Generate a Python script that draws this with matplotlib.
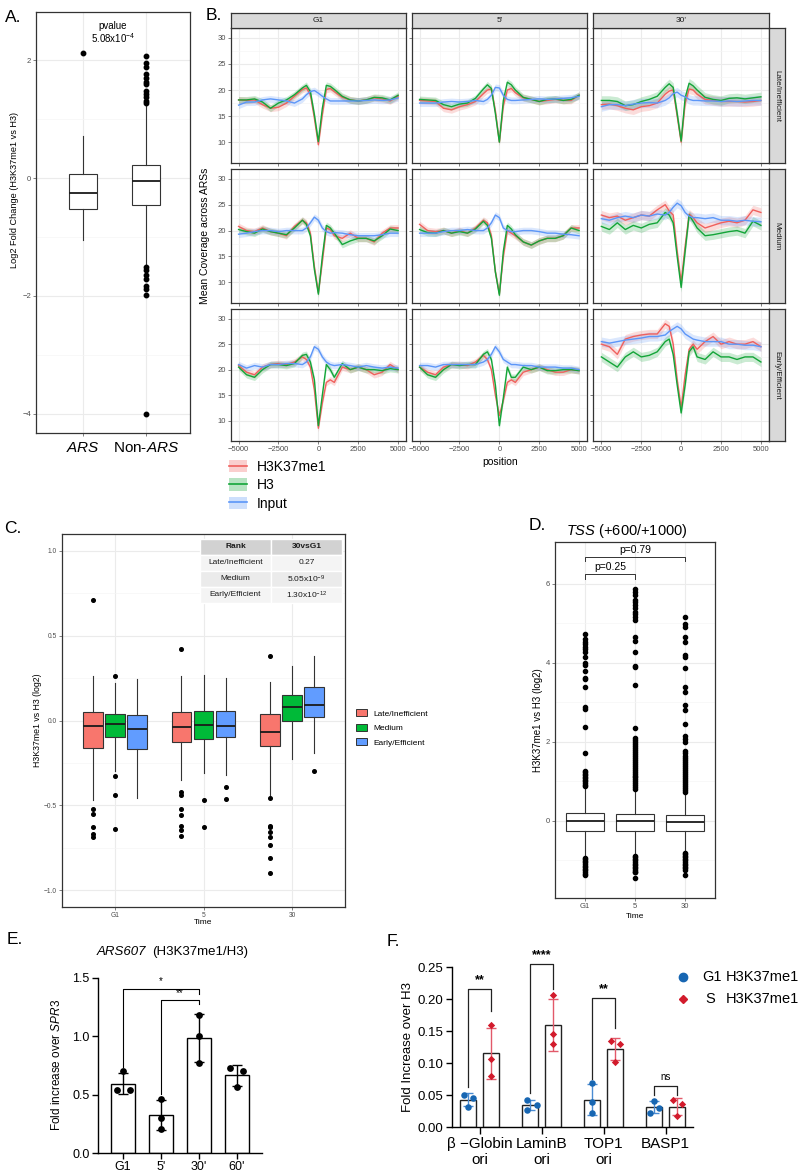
import numpy as np
import matplotlib
matplotlib.use('Agg')
import matplotlib.pyplot as plt
from matplotlib.patches import Rectangle, Patch
from matplotlib.lines import Line2D

plt.rcParams['font.family'] = ['Liberation Sans', 'DejaVu Sans']
plt.rcParams['mathtext.fontset'] = 'custom'
plt.rcParams['mathtext.rm'] = 'Liberation Sans'
plt.rcParams['mathtext.it'] = 'Liberation Sans:italic'
plt.rcParams['mathtext.bf'] = 'Liberation Sans:bold'

# ---------------- A: ARS vs non-ARS ----------------
a_groups = ['$\\mathit{ARS}$', 'Non-$\\mathit{ARS}$']
a_q1 = [-0.53, -0.45]
a_med = [-0.25, -0.05]
a_q3 = [0.07, 0.23]
a_lo = [-1.05, -1.47]
a_hi = [0.72, 1.25]
a_fliers = [[2.12],
            [2.07, 1.96, 1.88, 1.76, 1.70, 1.63, 1.59, 1.47, 1.42, 1.37, 1.31, 1.28,
             -1.51, -1.57, -1.64, -1.72, -1.83, -1.89, -1.99, -4.00]]

# ---------------- B: coverage profiles ----------------
b_pos = [-5000, -4500, -4000, -3500, -3000, -2500, -2000, -1500, -1000, -750, -500, -250, 0,
         250, 500, 750, 1000, 1500, 2000, 2500, 3000, 3500, 4000, 4500, 5000]
b_times = ['G1', "5'", "30'"]
b_ranks = ['Late/Inefficient', 'Medium', 'Early/Efficient']
b_series = ['H3K37me1', 'H3', 'Input']

late_g1_me1 = [18.1, 18.0, 18.1, 17.2, 16.5, 16.7, 17.5, 18.8, 20.1, 20.4, 19.1, 14.6, 9.5, 15.3, 20.1, 20.3, 19.7, 18.6, 18.1, 17.9, 18.1, 18.5, 18.3, 17.9, 18.8]
late_g1_h3 = [18.1, 18.1, 18.3, 17.7, 16.5, 17.5, 18.1, 19.1, 20.4, 20.9, 19.7, 15.3, 10.1, 16.5, 20.9, 20.7, 20.1, 18.8, 18.1, 17.9, 18.1, 18.6, 18.5, 18.1, 19.0]
late_g1_inp = [17.1, 17.7, 17.7, 18.1, 18.3, 18.1, 17.9, 17.5, 18.3, 19.1, 19.7, 19.9, 19.4, 18.8, 18.3, 17.9, 17.9, 17.9, 17.9, 17.9, 18.0, 18.1, 18.0, 18.1, 18.5]
late_5_me1 = [18.0, 17.9, 17.8, 16.5, 16.2, 16.8, 17.2, 17.8, 19.3, 20.0, 20.2, 16.0, 10.0, 17.0, 20.0, 20.3, 19.5, 18.5, 18.2, 17.8, 18.0, 18.2, 18.0, 18.0, 19.0]
late_5_h3 = [18.2, 18.1, 18.0, 17.2, 16.8, 17.3, 17.5, 18.4, 20.2, 21.0, 20.3, 15.5, 10.0, 18.0, 21.5, 21.0, 20.0, 18.6, 18.2, 17.8, 18.2, 18.3, 18.0, 18.2, 19.0]
late_5_inp = [17.5, 17.5, 17.5, 17.7, 17.8, 17.7, 17.8, 18.0, 17.8, 18.2, 19.0, 20.5, 20.4, 19.0, 18.2, 18.0, 18.0, 18.1, 18.2, 18.3, 18.2, 18.3, 18.4, 18.5, 18.8]
late_30_me1 = [17.2, 17.3, 17.0, 16.5, 16.2, 16.8, 17.0, 17.5, 19.2, 19.8, 20.0, 15.0, 10.0, 17.5, 20.2, 20.0, 19.2, 18.2, 18.0, 17.8, 17.8, 17.8, 17.7, 17.8, 18.0]
late_30_h3 = [18.0, 18.0, 17.8, 17.0, 17.2, 17.8, 18.2, 18.8, 20.5, 21.2, 20.5, 15.5, 10.2, 18.5, 21.3, 20.8, 20.0, 18.6, 18.2, 18.0, 18.4, 18.5, 18.3, 18.5, 18.7]
late_30_inp = [16.8, 17.2, 17.2, 17.0, 17.3, 17.5, 17.6, 17.5, 18.0, 18.5, 19.3, 19.6, 19.0, 18.7, 18.2, 18.0, 18.0, 17.9, 17.9, 17.8, 17.9, 17.8, 17.9, 18.0, 18.0]

med_g1_me1 = [20.8, 20.0, 19.8, 20.5, 19.8, 19.5, 19.0, 20.8, 22.0, 21.5, 19.5, 13.0, 8.0, 14.0, 20.5, 20.2, 19.0, 18.5, 19.5, 18.5, 18.5, 17.8, 19.5, 20.5, 20.5]
med_g1_h3 = [20.2, 19.8, 19.5, 20.3, 19.8, 19.5, 19.2, 20.5, 22.0, 21.2, 19.0, 12.5, 7.7, 15.0, 21.0, 20.5, 19.5, 17.3, 18.0, 18.5, 18.5, 18.0, 19.0, 20.3, 20.0]
med_g1_inp = [19.3, 19.5, 19.8, 20.0, 20.0, 19.8, 20.0, 20.0, 20.0, 20.5, 21.5, 22.6, 22.0, 20.5, 19.8, 19.5, 19.6, 19.5, 19.2, 19.0, 19.0, 19.0, 19.2, 19.5, 19.5]
med_5_me1 = [21.2, 20.0, 19.8, 20.0, 19.5, 20.0, 19.5, 20.5, 22.0, 21.5, 19.0, 12.0, 7.8, 15.0, 20.0, 19.5, 19.0, 17.8, 17.2, 18.0, 18.5, 18.5, 19.0, 20.5, 20.5]
med_5_h3 = [20.2, 19.6, 19.5, 20.0, 19.5, 19.8, 19.5, 20.3, 21.8, 21.0, 18.5, 12.0, 7.5, 16.0, 21.0, 20.3, 19.2, 17.8, 17.2, 18.0, 18.5, 18.5, 19.0, 20.5, 20.0]
med_5_inp = [19.5, 19.5, 19.5, 19.8, 20.0, 20.0, 20.2, 20.0, 20.0, 20.5, 21.5, 23.0, 22.5, 20.5, 20.0, 19.8, 19.8, 20.0, 20.0, 19.8, 19.5, 19.5, 19.3, 19.2, 19.0]
med_30_me1 = [23.0, 22.5, 22.8, 22.0, 22.5, 23.0, 22.8, 24.0, 25.0, 23.8, 23.0, 16.0, 10.0, 17.0, 23.2, 22.5, 21.5, 20.5, 21.0, 21.5, 21.8, 21.5, 22.0, 24.0, 23.5]
med_30_h3 = [20.8, 20.2, 21.5, 20.2, 21.0, 20.5, 21.2, 21.5, 23.5, 23.0, 21.5, 15.0, 9.0, 16.0, 23.0, 21.8, 20.5, 19.0, 19.2, 19.5, 19.8, 20.0, 19.5, 21.8, 21.0]
med_30_inp = [22.3, 22.0, 22.5, 22.8, 22.5, 23.0, 22.8, 23.2, 23.0, 23.5, 24.5, 25.3, 24.8, 23.5, 22.8, 22.5, 22.5, 22.3, 22.5, 22.0, 22.0, 21.8, 22.0, 21.8, 21.7]

early_g1_me1 = [20.8, 19.5, 19.0, 20.5, 21.0, 21.2, 21.0, 21.5, 22.5, 22.0, 20.5, 16.0, 8.5, 13.5, 17.5, 18.0, 17.5, 20.5, 20.0, 20.5, 20.0, 19.0, 19.5, 21.0, 20.0]
early_g1_h3 = [20.5, 19.0, 18.5, 20.0, 21.0, 21.0, 20.8, 21.2, 22.8, 23.0, 21.5, 18.0, 9.0, 15.0, 21.0, 20.0, 18.5, 21.2, 20.0, 20.5, 20.0, 20.0, 19.8, 20.2, 20.0]
early_g1_inp = [21.0, 20.3, 20.8, 20.5, 21.0, 21.0, 21.2, 21.2, 21.0, 21.5, 22.5, 24.5, 24.0, 22.5, 21.5, 21.0, 20.8, 21.0, 20.8, 20.5, 20.8, 20.5, 20.3, 20.5, 20.3]
early_5_me1 = [20.5, 19.5, 19.0, 20.5, 21.0, 21.0, 20.8, 21.5, 22.8, 22.0, 20.0, 15.0, 11.0, 14.0, 17.5, 18.0, 17.5, 19.5, 20.0, 20.5, 20.0, 19.5, 19.5, 20.0, 19.8]
early_5_h3 = [20.5, 19.0, 18.5, 20.0, 21.0, 20.8, 21.0, 21.0, 23.0, 23.5, 22.0, 17.0, 9.0, 14.5, 20.5, 18.5, 18.5, 20.5, 20.0, 20.5, 19.8, 19.8, 20.0, 20.0, 19.8]
early_5_inp = [20.8, 20.8, 20.5, 21.0, 21.0, 21.0, 21.0, 21.0, 21.5, 22.0, 23.0, 24.5, 23.5, 22.0, 21.5, 21.0, 21.0, 20.8, 20.8, 20.5, 20.5, 20.5, 20.3, 20.3, 20.0]
early_30_me1 = [25.0, 24.5, 23.0, 26.0, 26.5, 26.8, 27.0, 27.0, 29.0, 28.5, 25.0, 18.0, 12.5, 19.0, 24.0, 25.0, 24.0, 25.5, 26.5, 25.0, 25.5, 25.0, 25.0, 25.5, 24.5]
early_30_h3 = [22.5, 21.5, 20.5, 22.5, 23.5, 22.5, 22.8, 23.5, 25.5, 26.0, 23.0, 17.0, 11.5, 17.0, 23.5, 24.5, 22.5, 22.0, 23.5, 22.5, 22.5, 22.0, 22.5, 22.5, 21.5]
early_30_inp = [25.5, 25.2, 25.5, 25.8, 26.0, 26.2, 26.5, 26.5, 26.8, 27.5, 28.0, 28.5, 28.0, 27.0, 26.5, 26.0, 25.8, 25.5, 25.5, 25.5, 25.0, 25.0, 24.8, 24.8, 24.5]

b_table = {
    ('Late/Inefficient', 'G1'): [late_g1_me1, late_g1_h3, late_g1_inp],
    ('Late/Inefficient', "5'"): [late_5_me1, late_5_h3, late_5_inp],
    ('Late/Inefficient', "30'"): [late_30_me1, late_30_h3, late_30_inp],
    ('Medium', 'G1'): [med_g1_me1, med_g1_h3, med_g1_inp],
    ('Medium', "5'"): [med_5_me1, med_5_h3, med_5_inp],
    ('Medium', "30'"): [med_30_me1, med_30_h3, med_30_inp],
    ('Early/Efficient', 'G1'): [early_g1_me1, early_g1_h3, early_g1_inp],
    ('Early/Efficient', "5'"): [early_5_me1, early_5_h3, early_5_inp],
    ('Early/Efficient', "30'"): [early_30_me1, early_30_h3, early_30_inp],
}

# ---------------- C: H3K37me1 vs H3 by origin rank ----------------
c_times = ['G1', '5', '30']
late_q1 = [-0.163, -0.124, -0.153]
late_med = [-0.03, -0.04, -0.065]
late_q3 = [0.049, 0.049, 0.041]
late_lo = [-0.47, -0.35, -0.44]
late_hi = [0.265, 0.265, 0.225]
late_fliers = [[0.71, -0.52, -0.55, -0.63, -0.67, -0.69],
               [0.42, -0.42, -0.44, -0.52, -0.56, -0.62, -0.645, -0.68],
               [0.38, -0.46, -0.62, -0.63, -0.66, -0.69, -0.735, -0.81, -0.90]]
med_q1 = [-0.096, -0.108, -0.002]
med_med = [-0.02, -0.025, 0.08]
med_q3 = [0.041, 0.055, 0.153]
med_lo = [-0.30, -0.31, -0.225]
med_hi = [0.22, 0.27, 0.32]
med_fliers = [[0.26, -0.33, -0.44, -0.64], [-0.47, -0.63], []]
early_q1 = [-0.17, -0.10, 0.022]
early_med = [-0.05, -0.035, 0.094]
early_q3 = [0.033, 0.055, 0.20]
early_lo = [-0.46, -0.32, -0.19]
early_hi = [0.245, 0.25, 0.38]
early_fliers = [[], [-0.39, -0.465], [-0.30]]
c_table_rows = ['Late/Inefficient', 'Medium', 'Early/Efficient']
c_table_vals = ['0.27', '5.05x10$^{-9}$', '1.30x10$^{-12}$']

# ---------------- D: TSS ----------------
d_times = ['G1', '5', '30']
d_q1 = [-0.26, -0.25, -0.25]
d_med = [0.0, 0.0, -0.03]
d_q3 = [0.20, 0.18, 0.16]
d_lo = [-0.91, -0.85, -0.79]
d_hi = [0.85, 0.78, 0.72]
d_fliers_g1 = [0.88, 0.92, 0.96, 1.0, 1.04, 1.08, 1.12, 1.16, 1.2, 1.24, 1.27, 1.72, 2.38, 2.83, 2.89,
               3.38, 3.59, 3.63, 3.8, 3.95, 4.01, 4.14, 4.28, 4.35, 4.41, 4.47, 4.53, 4.6, 4.72,
               -0.93, -0.97, -1.01, -1.05, -1.09, -1.13, -1.17, -1.21, -1.25, -1.29, -1.33, -1.36]
d_fliers_5 = [0.8, 0.85, 0.9, 0.95, 1.0, 1.05, 1.1, 1.15, 1.2, 1.25, 1.3, 1.35, 1.4, 1.45, 1.5, 1.55,
              1.6, 1.65, 1.7, 1.75, 1.8, 1.85, 1.9, 1.95, 2.0, 2.05, 2.1, 2.35, 3.45, 3.89, 3.93, 4.28,
              4.55, 4.66, 5.09, 5.17, 5.24, 5.3, 5.4, 5.47, 5.55, 5.6, 5.73, 5.8, 5.86,
              -0.88, -0.92, -0.96, -1.0, -1.04, -1.08, -1.12, -1.16, -1.2, -1.24, -1.28, -1.3, -1.44]
d_fliers_30 = [0.73, 0.78, 0.83, 0.88, 0.93, 0.98, 1.03, 1.08, 1.13, 1.18, 1.23, 1.28, 1.33, 1.38,
               1.43, 1.48, 1.55, 1.6, 1.65, 1.72, 1.78, 2.0, 2.08, 2.15, 2.46, 2.8, 2.93, 3.27, 3.4,
               3.88, 4.14, 4.2, 4.52, 4.66, 4.91, 4.99, 5.15,
               -0.8, -0.84, -0.88, -0.92, -0.96, -1.0, -1.04, -1.08, -1.12, -1.16, -1.2, -1.24, -1.38]

# ---------------- E: ARS607 qPCR ----------------
e_labels = ['G1', "5'", "30'", "60'"]
e_g1 = [0.70, 0.543, 0.543]
e_5 = [0.466, 0.303, 0.209]
e_30 = [1.18, 1.00, 0.771]
e_60 = [0.729, 0.70, 0.566]

# ---------------- F: human origins ----------------
f_groups = ['\u03b2 \u2212Globin\nori', 'LaminB\nori', 'TOP1\nori', 'BASP1']
f_g1 = [[0.0505, 0.0458, 0.031], [0.0417, 0.0349, 0.026], [0.0688, 0.0385, 0.0214], [0.0406, 0.0297, 0.0219]]
f_s = [[0.159, 0.1057, 0.080], [0.206, 0.145, 0.129], [0.134, 0.129, 0.1016], [0.0417, 0.0365, 0.0167]]
f_sig = ['**', '****', '**', 'ns']

# ---------------- figure ----------------
W, H = 800, 1176
fig = plt.figure(figsize=(W / 100, H / 100), dpi=100)


def ax_at(x0, y0, x1, y1):
    return fig.add_axes([x0 / W, 1 - y1 / H, (x1 - x0) / W, (y1 - y0) / H])


def txt(x, y, s, **kw):
    kw.setdefault('ha', 'center')
    kw.setdefault('va', 'center')
    return fig.text(x / W, 1 - y / H, s, **kw)


GRID = '#EBEBEB'
GRID2 = '#F5F5F5'
FRAME = '#333333'
TICK = '#4D4D4D'


def gg_axes(ax, xt, yt, xminor, yminor, fs):
    ax.set_xticks(xt)
    ax.set_yticks(yt)
    ax.set_xticks(xminor, minor=True)
    ax.set_yticks(yminor, minor=True)
    ax.grid(True, which='major', color=GRID, lw=0.8)
    ax.grid(True, which='minor', color=GRID2, lw=0.5)
    ax.set_axisbelow(True)
    ax.tick_params(which='major', length=2, width=0.5, color=TICK, labelcolor=TICK, labelsize=fs, pad=1.5)
    ax.tick_params(which='minor', length=0)
    for s in ax.spines.values():
        s.set_color(FRAME)
        s.set_linewidth(0.9)


def stat(q1, med, q3, lo, hi, fl):
    return dict(q1=q1, med=med, q3=q3, whislo=lo, whishi=hi, fliers=fl)


def draw_box(ax, stats, pos, width, fc, fsize):
    ax.bxp(stats, positions=pos, widths=width, patch_artist=True, showcaps=False,
           boxprops=dict(facecolor=fc, edgecolor='#333333', lw=0.8),
           medianprops=dict(color='#1A1A1A', lw=1.3),
           whiskerprops=dict(color='#333333', lw=0.8),
           flierprops=dict(marker='o', markerfacecolor='black', markeredgecolor='black',
                           markersize=fsize, lw=0))


# panel labels
for lab, (x, y) in zip(['A.', 'B.', 'C.', 'D.', 'E.', 'F.'],
                       [(13, 17), (214, 16), (13, 528), (537, 525), (15, 940), (393, 942)]):
    txt(x, y, lab, fontsize=12.5)

# ---- A ----
ax = ax_at(36, 12, 190, 433)
draw_box(ax, [stat(a_q1[i], a_med[i], a_q3[i], a_lo[i], a_hi[i], a_fliers[i]) for i in range(2)],
         [1, 2], 0.45, 'white', 3.2)
ax.set_xlim(0.25, 2.7)
ax.set_ylim(-4.33, 2.82)
gg_axes(ax, [1, 2], [-4, -2, 0, 2], [], [-3, -1, 1], 5.5)
ax.set_xticklabels(a_groups, fontsize=11, color='black')
ax.tick_params(axis='x', pad=4)
txt(15, 190, 'Log2 Fold Change (H3K37me1 vs H3)', rotation=90, fontsize=6.6)
txt(113, 26, 'pvalue', fontsize=7)
txt(113, 38, '5.08x10$^{-4}$', fontsize=7)

# ---- B ----
b_colors = ['#F0605D', '#13A538', '#5C96F8']
bx0 = [230.6, 411.6, 593.4]
bw = 175.5
by0 = [28, 169, 309]
by1 = [163, 303, 441]
for r, rank in enumerate(b_ranks):
    for c, t in enumerate(b_times):
        ax = ax_at(bx0[c], by0[r], bx0[c] + bw, by1[r])
        for vals, col in zip(b_table[(rank, t)], b_colors):
            y = np.array(vals)
            band = 0.9 if c == 2 else 0.65
            ax.fill_between(b_pos, y - band, y + band, color=col, alpha=0.22, lw=0)
            ax.plot(b_pos, y, color=col, lw=1.0)
        ax.set_xlim(-5500, 5500)
        ax.set_ylim(6.0, 31.9)
        gg_axes(ax, [-5000, -2500, 0, 2500, 5000], [10, 15, 20, 25, 30],
                [-3750, -1250, 1250, 3750], [12.5, 17.5, 22.5, 27.5], 5.5)
        if c > 0:
            ax.set_yticklabels([])
        if r < 2:
            ax.set_xticklabels([])
    sax = ax_at(769, by0[r], 785, by1[r])
    sax.set_facecolor('#D9D9D9')
    sax.set_xticks([])
    sax.set_yticks([])
    for s in sax.spines.values():
        s.set_color(FRAME)
        s.set_linewidth(0.9)
    sax.text(0.5, 0.5, rank, transform=sax.transAxes, rotation=-90, ha='center', va='center',
             fontsize=5.8, color='#1A1A1A')
for c, t in enumerate(b_times):
    sax = ax_at(bx0[c], 13, bx0[c] + bw, 28)
    sax.set_facecolor('#D9D9D9')
    sax.set_xticks([])
    sax.set_yticks([])
    for s in sax.spines.values():
        s.set_color(FRAME)
        s.set_linewidth(0.9)
    sax.text(0.5, 0.5, t, transform=sax.transAxes, ha='center', va='center', fontsize=6, color='#1A1A1A')
txt(205, 236, 'Mean Coverage across ARSs', rotation=90, fontsize=7.5)
txt(500, 462, 'position', fontsize=7.5)
b_handles = [(Patch(facecolor=col, alpha=0.3, edgecolor='none'), Line2D([], [], color=col, lw=1.2))
             for col in b_colors]
fig.legend(b_handles, b_series, loc='upper left', bbox_to_anchor=(229 / W, 1 - 460 / H),
           frameon=False, fontsize=10, handlelength=1.3, handleheight=1.0, labelspacing=0.32,
           handletextpad=0.7, borderaxespad=0, borderpad=0)

# ---- C ----
c_colors = ['#F8766D', '#00BA38', '#619CFF']
c_sets = [(late_q1, late_med, late_q3, late_lo, late_hi, late_fliers),
          (med_q1, med_med, med_q3, med_lo, med_hi, med_fliers),
          (early_q1, early_med, early_q3, early_lo, early_hi, early_fliers)]
ax = ax_at(62, 534, 345, 907)
for k, (q1, md, q3, lo, hi, fl) in enumerate(c_sets):
    stats = [stat(q1[i], md[i], q3[i], lo[i], hi[i], fl[i]) for i in range(3)]
    draw_box(ax, stats, [i + 1 + (k - 1) * 0.25 for i in range(3)], 0.22, c_colors[k], 2.6)
ax.set_xlim(0.4, 3.6)
ax.set_ylim(-1.1, 1.1)
gg_axes(ax, [1, 2, 3], [-1, -0.5, 0, 0.5, 1], [], [-0.75, -0.25, 0.25, 0.75], 4.8)
ax.set_xticklabels(c_times)
ax.set_yticklabels(['\u22121.0', '\u22120.5', '0.0', '0.5', '1.0'])
txt(37, 720, 'H3K37me1 vs H3 (log2)', rotation=90, fontsize=6.3)
txt(203, 923, 'Time', fontsize=6)
c_handles = [Patch(facecolor=col, edgecolor='#333333', lw=0.7) for col in c_colors]
fig.legend(c_handles, b_ranks, loc='center left', bbox_to_anchor=(356 / W, 1 - 728 / H),
           frameon=False, fontsize=6, handlelength=1.3, handleheight=0.9, labelspacing=0.75,
           handletextpad=0.8, borderaxespad=0, borderpad=0)


def cell(x, y, w, h, fc, s, bold=False):
    fig.add_artist(Rectangle((x / W, 1 - (y + h) / H), w / W, h / H, transform=fig.transFigure,
                             facecolor=fc, edgecolor='white', lw=1.0))
    txt(x + w / 2, y + h / 2, s, fontsize=6, fontweight='bold' if bold else 'normal', color='#1A1A1A')


cell(200, 539, 71, 16, '#D2D2D2', 'Rank', True)
cell(271, 539, 71, 16, '#D2D2D2', '30vsG1', True)
for i, (rname, rval) in enumerate(zip(c_table_rows, c_table_vals)):
    fc = '#EBEBEB' if i % 2 == 1 else '#F4F4F4'
    cell(200, 555 + 16 * i, 71, 16, fc, rname)
    cell(271, 555 + 16 * i, 71, 16, fc, rval)

# ---- D ----
ax = ax_at(555, 542, 715, 898)
d_fl = [d_fliers_g1, d_fliers_5, d_fliers_30]
draw_box(ax, [stat(d_q1[i], d_med[i], d_q3[i], d_lo[i], d_hi[i], d_fl[i]) for i in range(3)],
         [1, 2, 3], 0.76, 'white', 3.0)
ax.set_xlim(0.4, 3.6)
ax.set_ylim(-1.95, 7.06)
gg_axes(ax, [1, 2, 3], [0, 2, 4, 6], [], [-1, 1, 3, 5], 5.5)
ax.set_xticklabels(d_times)
for (xa, xb, yb, lab) in [(1, 3, 6.69, 'p=0.79'), (1, 2, 6.24, 'p=0.25')]:
    ax.plot([xa, xa, xb, xb], [yb - 0.12, yb, yb, yb - 0.12], color='#333333', lw=0.7)
    ax.text((xa + xb) / 2, yb + 0.05, lab, ha='center', va='bottom', fontsize=7.5)
txt(627, 531, '$\\mathit{TSS}$ (+600/+1000)', fontsize=10.5)
txt(538, 720, 'H3K37me1 vs H3 (log2)', rotation=90, fontsize=7)
txt(635, 917, 'Time', fontsize=6)

# ---- E ----
ax = ax_at(98, 978, 262, 1153)
e_vals = [e_g1, e_5, e_30, e_60]
e_jit = [[0, -0.17, 0.17], [0, 0, 0], [0, 0, 0], [-0.19, 0.16, 0]]
xs = np.arange(len(e_labels))
means = [np.mean(v) for v in e_vals]
sds = [np.std(v, ddof=1) for v in e_vals]
ax.bar(xs, means, width=0.64, color='white', edgecolor='black', lw=1.0, zorder=2)
ax.errorbar(xs, means, yerr=sds, fmt='none', ecolor='black', elinewidth=1.0, capsize=3.5, capthick=1.0, zorder=3)
for i, v in enumerate(e_vals):
    ax.scatter(xs[i] + np.array(e_jit[i]), v, s=24, color='black', zorder=4, lw=0)
ax.set_xlim(-0.66, 3.66)
ax.set_ylim(0, 1.5)
ax.spines[['top', 'right']].set_visible(False)
for s in ['left', 'bottom']:
    ax.spines[s].set_linewidth(1.0)
ax.set_yticks([0, 0.5, 1.0, 1.5])
ax.set_yticklabels(['0.0', '0.5', '1.0', '1.5'])
ax.set_xticks(xs)
ax.set_xticklabels(e_labels)
ax.tick_params(length=4, width=1.0, labelsize=9, pad=2)
for (xa, xb, ya, yb, ytop, lab, ly) in [(0, 2, 0.737, 1.36, 1.41, '*', 1.43),
                                         (1, 2, 0.509, 1.28, 1.314, '**', 1.33)]:
    ax.plot([xa, xa, xb, xb], [ya, ytop, ytop, yb], color='black', lw=0.8, clip_on=False)
    ax.text((xa + xb) / 2, ly, lab, ha='center', va='bottom', fontsize=7)
txt(146, 952, 'ARS607', fontsize=9.5, fontstyle='italic', ha='right')
txt(152, 952, '(H3K37me1/H3)', fontsize=9.5, ha='left')
txt(57, 1065, 'Fold increase over $\\mathit{SPR3}$', rotation=90, fontsize=8.5)

# ---- F ----
F_BLUE = '#1766B2'
F_RED = '#D21B2C'
ax = ax_at(452, 967, 693, 1127)
gx = np.arange(len(f_groups))
off = 0.186
f_jit_g1 = [[-0.07, 0.07, 0], [-0.05, 0.1, -0.05], [0, 0, 0], [0, 0.07, -0.07]]
f_jit_s = [[0, 0, 0], [0, 0, 0], [-0.07, 0.07, 0], [-0.07, 0.07, 0]]
for vals, sign, col, ecol, mk, jit in [(f_g1, -1, F_BLUE, '#4A8BD2', 'o', f_jit_g1),
                                      (f_s, 1, F_RED, '#E2596A', 'D', f_jit_s)]:
    m = [np.mean(v) for v in vals]
    sd = [np.std(v, ddof=1) for v in vals]
    ax.bar(gx + sign * off, m, width=0.26, color='white', edgecolor='#222222', lw=1.0, zorder=2)
    ax.errorbar(gx + sign * off, m, yerr=sd, fmt='none', ecolor=ecol, elinewidth=1.0,
                capsize=3.5, capthick=1.0, zorder=3)
    for i, v in enumerate(vals):
        ax.scatter(gx[i] + sign * off + np.array(jit[i]), v, s=22 if mk == 'o' else 14,
                   marker=mk, color=col, zorder=4, lw=0)
f_brackets = [(0.0625, 0.181, 0.216, 0.229), (0.0536, 0.216, 0.255, 0.268),
              (0.0755, 0.155, 0.2016, 0.2146), (0.0495, 0.0495, 0.064, 0.078)]
for i, (ya, yb, ytop, ly) in enumerate(f_brackets):
    ax.plot([i - off, i - off, i + off, i + off], [ya, ytop, ytop, yb], color='#222222', lw=0.9,
            clip_on=False)
    ax.text(i, ly, f_sig[i], ha='center', va='center', fontsize=7 if f_sig[i] == 'ns' else 9,
            fontweight='bold' if f_sig[i] != 'ns' else 'normal', clip_on=False)
ax.set_xlim(-0.45, 3.44)
ax.set_ylim(0, 0.25)
ax.spines[['top', 'right']].set_visible(False)
for s in ['left', 'bottom']:
    ax.spines[s].set_linewidth(1.0)
ax.set_yticks([0, 0.05, 0.10, 0.15, 0.20, 0.25])
ax.set_yticklabels(['0.00', '0.05', '0.10', '0.15', '0.20', '0.25'])
ax.set_xticks(gx)
ax.set_xticklabels(f_groups, fontsize=11, linespacing=1.25)
ax.tick_params(axis='y', length=4, width=1.0, labelsize=9.5, pad=2)
ax.tick_params(axis='x', length=5, width=1.0, pad=2)
txt(408, 1047, 'Fold Increase over H3', rotation=90, fontsize=9.5)
fig.add_artist(Line2D([683 / W], [1 - 977 / H], transform=fig.transFigure, marker='o', color=F_BLUE,
                      markersize=6, linestyle='none'))
fig.add_artist(Line2D([683 / W], [1 - 999 / H], transform=fig.transFigure, marker='D', color=F_RED,
                      markersize=4.5, linestyle='none'))
txt(702, 977, 'G1', ha='left', fontsize=10.5)
txt(726, 977, 'H3K37me1', ha='left', fontsize=10.5)
txt(705, 999, 'S', ha='left', fontsize=10.5)
txt(726, 999, 'H3K37me1', ha='left', fontsize=10.5)

fig.savefig('out.png', dpi=100)
